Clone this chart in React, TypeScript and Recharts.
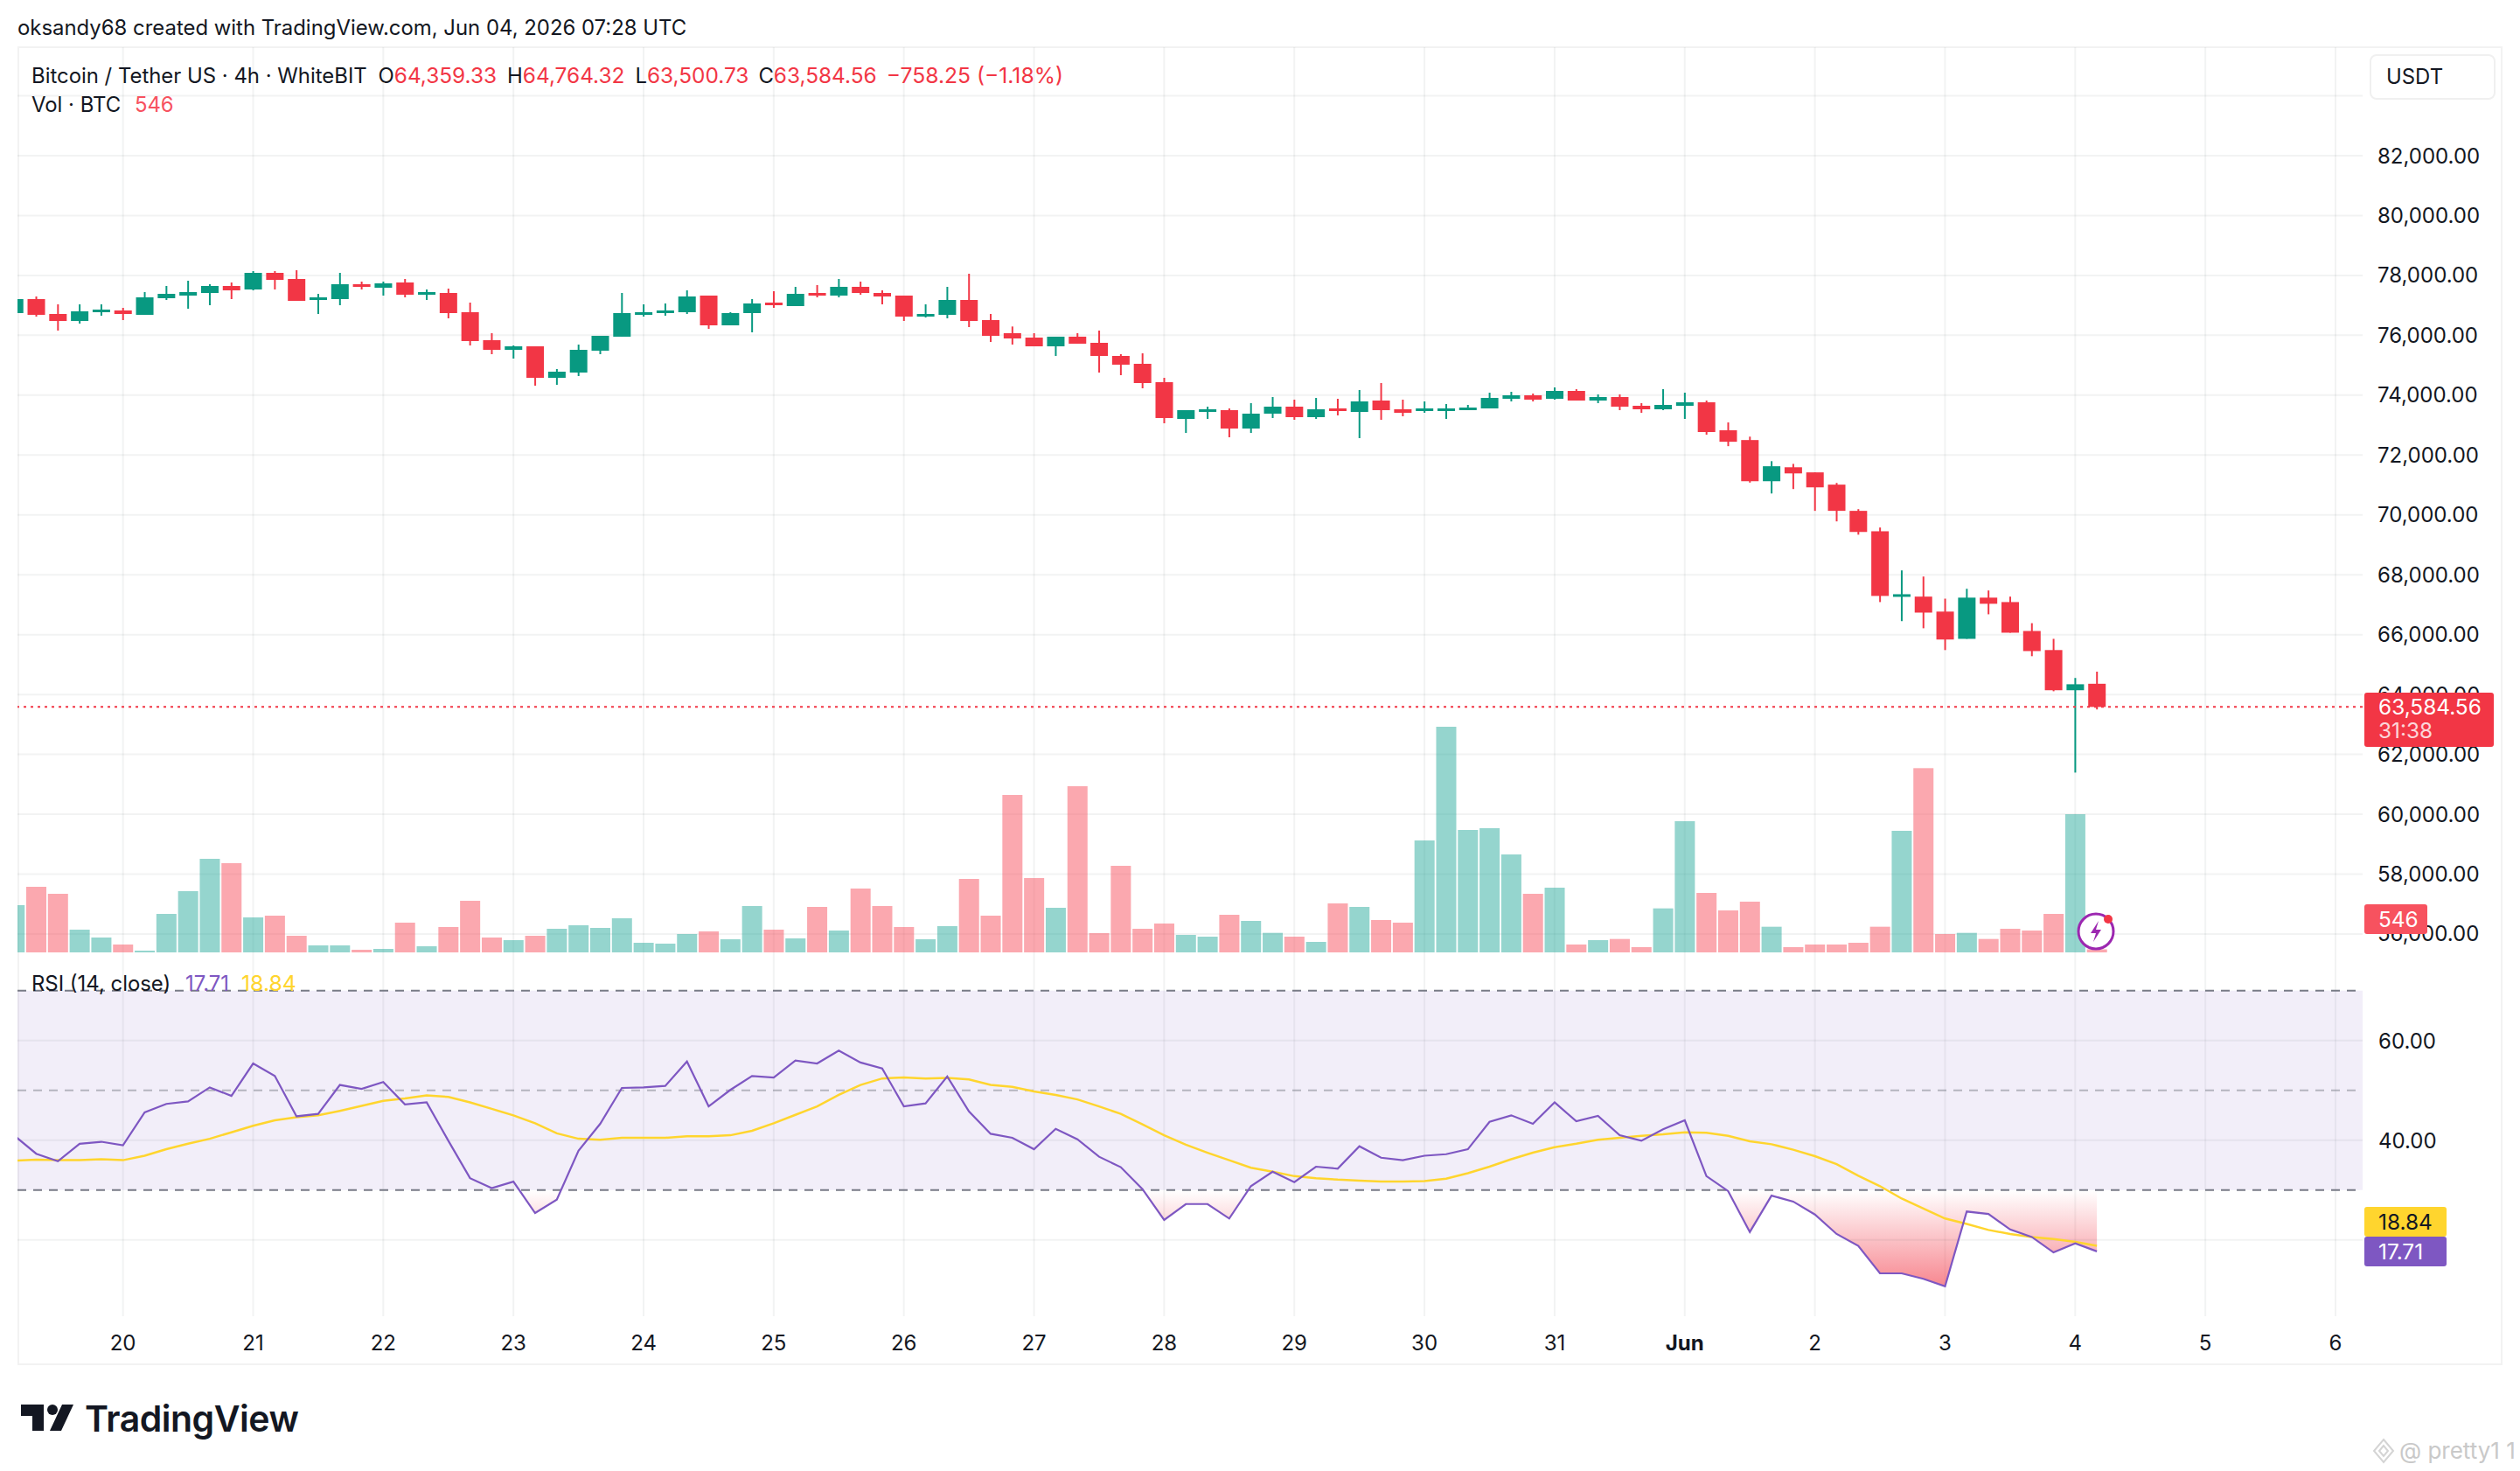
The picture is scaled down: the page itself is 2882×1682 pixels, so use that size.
import { ComposedChart, Bar, Line, Area, XAxis, YAxis, CartesianGrid, ReferenceLine, ReferenceArea } from "recharts";

const FONT = "Inter, 'Noto Sans', sans-serif";
const UP = "#089981";
const DOWN = "#F23645";
const VOL_UP = "rgba(34,168,152,0.48)";
const VOL_DOWN = "rgba(247,82,95,0.5)";
const GRID = "rgba(42,46,57,0.06)";

// 4h candles, first one is May 19 04:00
const opens = [
  76741, 77209, 76712, 76478, 76800, 76829, 76683, 77238, 77326, 77413, 77647, 77530, 78085, 77881, 77209, 77209, 77705, 77588, 77764, 77384,
  77413, 76770, 75836, 75514, 75631, 74579, 74755, 75485, 75953, 76712, 76770, 76770, 77326, 76332, 76741, 77092, 76975, 77413, 77326, 77618,
  77413, 77326, 76624, 76683, 77179, 76508, 76069, 75923, 75631, 75953, 75748, 75310, 75047, 74433, 73206, 73469, 73499, 72885, 73382, 73616,
  73265, 73557, 73440, 73820, 73528, 73499, 73499, 73499, 73557, 73879, 73995, 73879, 74141, 73820, 73937, 73645, 73528, 73645, 73762, 72827,
  72500, 71125, 71591, 71420, 71011, 70135, 69453, 67293, 67270, 66770, 65860, 67236, 67088, 66122, 65485, 64143, 64359.33,
];
const highs = [
  77267, 77296, 77033, 77033, 77033, 76917, 77442, 77647, 77822, 77705, 77764, 78144, 78144, 78173, 77384, 78085, 77793, 77793, 77881, 77530,
  77559, 77092, 76069, 75660, 75631, 74872, 75690, 75982, 77413, 77033, 77063, 77501, 77326, 76770, 77209, 77472, 77618, 77676, 77881, 77793,
  77501, 77326, 77033, 77618, 78056, 76712, 76293, 76069, 75953, 76069, 76157, 75368, 75397, 74579, 73499, 73616, 73557, 73733, 73937, 73850,
  73908, 73879, 74171, 74404, 73850, 73791, 73703, 73674, 74083, 74112, 74054, 74258, 74200, 74025, 74025, 73733, 74200, 74083, 73820, 73090,
  72614, 71795, 71704, 71420, 71068, 70192, 69578, 68146, 67941, 67202, 67532, 67475, 67270, 66383, 65860, 64553, 64764.32,
];
const lows = [
  76683, 76624, 76157, 76391, 76654, 76508, 76683, 77179, 76887, 77004, 77209, 77501, 77530, 77150, 76712, 77004, 77530, 77326, 77267, 77179,
  76566, 75660, 75368, 75222, 74317, 74346, 74638, 75368, 75953, 76624, 76654, 76712, 76215, 76332, 76099, 76917, 76975, 77267, 77267, 77355,
  77033, 76478, 76595, 76566, 76274, 75777, 75690, 75631, 75310, 75719, 74755, 74667, 74229, 73060, 72738, 73206, 72593, 72738, 73236, 73177,
  73206, 73324, 72563, 73177, 73294, 73411, 73206, 73499, 73557, 73791, 73791, 73850, 73820, 73733, 73499, 73411, 73499, 73206, 72680, 72296,
  71079, 70715, 70863, 70135, 69783, 69339, 67088, 66451, 66213, 65485, 65860, 66679, 66065, 65280, 64109, 61392, 63500.73,
];
const closes = [
  77209, 76683, 76478, 76800, 76858, 76712, 77267, 77384, 77442, 77647, 77501, 78085, 77851, 77150, 77267, 77705, 77647, 77734, 77355, 77442,
  76741, 75807, 75514, 75631, 74579, 74784, 75514, 75982, 76741, 76770, 76829, 77296, 76332, 76741, 77063, 77033, 77384, 77355, 77618, 77413,
  77296, 76624, 76712, 77179, 76478, 75982, 75894, 75631, 75953, 75719, 75310, 75018, 74404, 73236, 73499, 73528, 72885, 73382, 73616, 73265,
  73528, 73499, 73791, 73499, 73411, 73557, 73557, 73586, 73908, 73995, 73850, 74141, 73820, 73937, 73616, 73528, 73674, 73762, 72768, 72443,
  71125, 71625, 71386, 70920, 70135, 69430, 67293, 67350, 66736, 65837, 67236, 67031, 66065, 65451, 64143, 64342.81, 63584.56,
];
const volumes = [
  8424, 11700, 10452, 4056, 2652, 1404, 312, 6864, 10920, 16692, 15912, 6240, 6552, 2964, 1248, 1248, 468, 624, 5304, 1092,
  4524, 9204, 2652, 2184, 2964, 4212, 4836, 4368, 6084, 1716, 1560, 3276, 3744, 2340, 8268, 4056, 2496, 8112, 3900, 11388,
  8268, 4524, 2340, 4680, 13104, 6552, 28080, 13260, 7956, 29640, 3432, 15444, 4212, 5148, 3120, 2808, 6708, 5616, 3484, 2808,
  1872, 8736, 8112, 5772, 5304, 19968, 40248, 21840, 22152, 17472, 10452, 11544, 1404, 2184, 2392, 936, 7852, 23400, 10608, 7488,
  9048, 4576, 936, 1404, 1404, 1716, 4576, 21684, 32864, 3276, 3484, 2392, 4212, 3900, 6864, 24648, 546,
];
const rsiValues = [
  40.9, 37.3, 35.8, 39.3, 39.7, 39.0, 45.6, 47.3, 47.8, 50.6, 48.9, 55.4, 52.9, 44.8, 45.3, 51.1, 50.3, 51.7, 47.2, 47.6,
  39.9, 32.4, 30.4, 31.7, 25.4, 28.1, 37.9, 43.3, 50.5, 50.6, 50.9, 55.8, 46.8, 50.1, 52.9, 52.6, 56.0, 55.4, 58.0, 55.6,
  54.4, 46.8, 47.4, 52.8, 45.8, 41.3, 40.5, 38.2, 42.3, 40.2, 36.7, 34.6, 30.2, 24.0, 27.2, 27.2, 24.3, 30.8, 33.7, 31.6,
  34.7, 34.3, 38.8, 36.5, 36.0, 36.9, 37.2, 38.2, 43.7, 45.0, 43.3, 47.6, 43.8, 44.9, 41.0, 39.9, 42.2, 44.0, 32.8, 29.8,
  21.6, 28.9, 27.7, 25.1, 21.2, 18.8, 13.3, 13.3, 12.2, 10.7, 25.7, 25.2, 22.1, 20.6, 17.5, 19.3, 17.71,
];
const rsiMa = [
  35.9, 36.1, 36.0, 36.0, 36.2, 36.0, 36.9, 38.2, 39.3, 40.3, 41.6, 42.9, 44.0, 44.6, 45.0, 45.9, 46.9, 47.9, 48.4, 49.0,
  48.7, 47.6, 46.3, 45.0, 43.4, 41.4, 40.3, 40.1, 40.5, 40.5, 40.5, 40.8, 40.8, 41.0, 41.9, 43.4, 45.1, 46.8, 49.1, 51.1,
  52.4, 52.6, 52.4, 52.5, 52.2, 51.1, 50.7, 49.8, 49.1, 48.2, 46.8, 45.3, 43.2, 41.0, 39.1, 37.5, 36.0, 34.5, 33.7, 32.8,
  32.4, 32.1, 31.9, 31.7, 31.7, 31.8, 32.3, 33.4, 34.7, 36.2, 37.5, 38.6, 39.3, 40.1, 40.5, 40.9, 41.2, 41.6, 41.5, 40.9,
  39.8, 39.2, 38.1, 36.8, 35.2, 32.9, 30.8, 28.3, 26.3, 24.3, 23.2, 22.0, 21.2, 20.6, 20.2, 19.6, 18.84,
];

const dayTicks = [5, 11, 17, 23, 29, 35, 41, 47, 53, 59, 65, 71, 77, 83, 89, 95, 101, 107];
const dayLabels = ["20", "21", "22", "23", "24", "25", "26", "27", "28", "29", "30", "31", "Jun", "2", "3", "4", "5", "6"];
const priceTicks = [56000, 58000, 60000, 62000, 64000, 66000, 68000, 70000, 72000, 74000, 76000, 78000, 80000, 82000];
const priceGrid = [...priceTicks, 84000];
const xDomain = [0.137, 108.25];

const lastPrice = 63584.56;
const lastVolume = 546;

const rows = opens.map((open, i) => ({
  idx: i,
  open,
  high: highs[i],
  low: lows[i],
  close: closes[i],
  volume: volumes[i],
  rsi: rsiValues[i],
  ma: rsiMa[i],
}));

const money = (v: number) => v.toLocaleString("en-US", { minimumFractionDigits: 2, maximumFractionDigits: 2 });

function Candle(props: any) {
  const { x, y, width, height, payload } = props;
  const { open, high, low, close } = payload;
  const perUnit = Math.abs(height) / (high - low);
  const yOf = (v: number) => y + (high - v) * perUnit;
  const top = yOf(Math.max(open, close));
  const bottom = yOf(Math.min(open, close));
  const color = close >= open ? UP : DOWN;
  const cx = x + width / 2;
  return (
    <g>
      <line x1={cx} x2={cx} y1={y} y2={y + Math.abs(height)} stroke={color} strokeWidth={2} />
      <rect x={cx - 10} y={top} width={20} height={Math.max(bottom - top, 3)} fill={color} />
    </g>
  );
}

function VolumeBar(props: any) {
  const { x, y, width, height, payload } = props;
  return <rect x={x} y={y} width={width} height={height} fill={payload.close >= payload.open ? VOL_UP : VOL_DOWN} />;
}

function DayTick(props: any) {
  const { x, y, payload } = props;
  const label = dayLabels[dayTicks.indexOf(payload.value)];
  return (
    <text x={x} y={y + 31} textAnchor="middle" fontFamily={FONT} fontSize={24} fill="#131722" fontWeight={label === "Jun" ? 700 : 400}>
      {label}
    </text>
  );
}

function RsiLabel(props: any) {
  const { viewBox, text } = props;
  return (
    <text x={viewBox.x + viewBox.width + 18} y={viewBox.y + 9} fontFamily={FONT} fontSize={24} fill="#131722">
      {text}
    </text>
  );
}

const abs = (left: number, top: number, extra?: any): any => ({ position: "absolute", left, top, fontFamily: FONT, fontSize: 23.9, lineHeight: "30px", whiteSpace: "nowrap", color: "#131722", ...extra });
const red = { color: DOWN, fontSize: 24.4 };
const tag = (top: number, width: number, height: number, background: string, color: string): any =>
  abs(2704, top, { width, height, background, color, fontSize: 24.4, lineHeight: "34px", paddingLeft: 16, boxSizing: "border-box", borderRadius: 3 });

export default function App() {
  return (
    <div style={{ position: "absolute", left: 0, top: 0, width: 2882, height: 1682, background: "#fff", overflow: "hidden" }}>
      <div style={{ position: "absolute", left: 20, top: 53, width: 2842, height: 1508, boxSizing: "border-box", border: "2px solid #f2f2f2" }} />
      <ComposedChart
        width={2882}
        height={1682}
        data={rows}
        margin={{ top: 54, right: 20, bottom: 121, left: 20 }}
        style={{ position: "absolute", left: 0, top: 0 }}
      >
        <defs>
          <linearGradient id="oversold" gradientUnits="userSpaceOnUse" x1="0" x2="0" y1="1361" y2="1475">
            <stop offset="0" stopColor={DOWN} stopOpacity={0} />
            <stop offset="1" stopColor={DOWN} stopOpacity={0.62} />
          </linearGradient>
        </defs>
        <XAxis
          dataKey="idx"
          type="number"
          domain={xDomain}
          allowDataOverflow
          ticks={dayTicks}
          interval={0}
          height={56}
          axisLine={false}
          tickLine={false}
          tick={<DayTick />}
        />
        <XAxis xAxisId="vol" dataKey="idx" type="number" domain={xDomain} allowDataOverflow ticks={dayTicks} hide />
        <YAxis
          yAxisId="price"
          orientation="right"
          width={160}
          domain={[43233, 85622]}
          ticks={priceTicks}
          interval={0}
          axisLine={false}
          tickLine={false}
          tickFormatter={money}
          tick={{ fontFamily: FONT, fontSize: 24, fill: "#131722", dx: 9 }}
        />
        <YAxis yAxisId="volume" hide domain={[-64896, 161460]} />
        <YAxis yAxisId="rsi" hide domain={[4.7, 259.3]} />
        <CartesianGrid yAxisId="price" stroke={GRID} strokeWidth={2} horizontalValues={priceGrid} verticalValues={dayTicks} />
        <ReferenceArea yAxisId="rsi" y1={30} y2={70} fill="#7E57C2" fillOpacity={0.1} stroke="none" />
        <ReferenceLine yAxisId="rsi" y={60} stroke={GRID} strokeWidth={2} label={<RsiLabel text="60.00" />} />
        <ReferenceLine yAxisId="rsi" y={40} stroke={GRID} strokeWidth={2} label={<RsiLabel text="40.00" />} />
        <ReferenceLine yAxisId="rsi" y={20} stroke={GRID} strokeWidth={2} />
        <ReferenceLine yAxisId="rsi" y={70} stroke="#787B86" strokeWidth={2} strokeDasharray="10 8" />
        <ReferenceLine yAxisId="rsi" y={50} stroke="#787B86" strokeOpacity={0.5} strokeWidth={2} strokeDasharray="10 8" />
        <ReferenceLine yAxisId="rsi" y={30} stroke="#787B86" strokeWidth={2} strokeDasharray="10 8" />
        <Bar xAxisId="vol" yAxisId="volume" dataKey="volume" barSize={23} shape={<VolumeBar />} isAnimationActive={false} />
        <Bar yAxisId="price" dataKey={(d: any) => [d.low, d.high]} barSize={23} shape={<Candle />} isAnimationActive={false} />
        <Area
          yAxisId="rsi"
          dataKey={(d: any) => [d.rsi, 30]}
          type="linear"
          stroke="none"
          fill="url(#oversold)"
          fillOpacity={1}
          dot={false}
          activeDot={false}
          isAnimationActive={false}
        />
        <Line yAxisId="rsi" dataKey="ma" type="linear" stroke="#FFD52E" strokeWidth={2.5} dot={false} activeDot={false} isAnimationActive={false} />
        <Line yAxisId="rsi" dataKey="rsi" type="linear" stroke="#7E57C2" strokeWidth={2.2} dot={false} activeDot={false} isAnimationActive={false} />
        <ReferenceLine yAxisId="price" y={lastPrice} stroke={DOWN} strokeWidth={2} strokeDasharray="3 5" />
      </ComposedChart>

      <div style={{ ...tag(792, 148, 62, DOWN, "#fff"), lineHeight: "27px", paddingTop: 3 }}>
        <div>{money(lastPrice)}</div>
        <div style={{ opacity: 0.8 }}>31:38</div>
      </div>
      <div style={tag(1034, 72, 34, "#F7525F", "#fff")}>{lastVolume}</div>
      <div style={tag(1380, 94, 34, "#FFD52E", "#131722")}>{rsiMa[96]}</div>
      <div style={tag(1414, 94, 34, "#7E57C2", "#fff")}>{rsiValues[96]}</div>

      <div style={abs(20, 17)}>oksandy68 created with TradingView.com, Jun 04, 2026 07:28 UTC</div>
      <div style={abs(36, 71)}>
        Bitcoin / Tether US · 4h · WhiteBIT{"  "}
        <span style={{ marginLeft: 6 }}>O</span><span style={red}>64,359.33</span>
        <span style={{ marginLeft: 12 }}>H</span><span style={red}>64,764.32</span>
        <span style={{ marginLeft: 12 }}>L</span><span style={red}>63,500.73</span>
        <span style={{ marginLeft: 11 }}>C</span><span style={red}>63,584.56</span>
        <span style={{ ...red, marginLeft: 11, fontSize: 24.7 }}>−758.25 (−1.18%)</span>
      </div>
      <div style={abs(36, 105)}>
        Vol · BTC <span style={{ color: "#F7525F", marginLeft: 9 }}>546</span>
      </div>
      <div style={abs(36, 1109)}>
        RSI (14, close) <span style={{ color: "#7E57C2", marginLeft: 10 }}>17.71</span>
        <span style={{ color: "#FFD52E", marginLeft: 14, fontSize: 24.8 }}>18.84</span>
      </div>
      <div style={abs(2710, 62, { width: 144, height: 52, boxSizing: "border-box", border: "2px solid #f0f0f0", borderRadius: 8, padding: "9px 0 0 17px" })}>USDT</div>

      <svg style={{ position: "absolute", left: 2370, top: 1040 }} width={56} height={56}>
        <circle cx={27} cy={25} r={20} fill="#fff" stroke="#9C27B0" strokeWidth={3} />
        <path d="M30 13 L21 27 L27 27 L24 37 L33 23 L27 23 Z" fill="#9C27B0" />
        <circle cx={41} cy={11} r={5} fill={DOWN} />
      </svg>

      <svg style={{ position: "absolute", left: 24, top: 1606 }} width={62} height={32}>
        <path d="M0 0 H26 V30 H13 V13 H0 Z" fill="#131722" />
        <circle cx={36} cy={6} r={6} fill="#131722" />
        <path d="M47 0 H60 L46 30 H33 Z" fill="#131722" />
      </svg>
      <div style={abs(97, 1597, { fontSize: 41, lineHeight: "50px", fontWeight: 600, letterSpacing: -0.5 })}>TradingView</div>
      <svg style={{ position: "absolute", left: 2712, top: 1644 }} width={28} height={30}>
        <path d="M14 2 L25 15 L14 28 L3 15 Z M14 9 L9 15 L14 21 L19 15 Z" fill="none" stroke="#d4d4d4" strokeWidth={2} />
      </svg>
      <div style={abs(2744, 1644, { fontSize: 26, color: "#c9c9c9" })}>@ pretty1 1</div>
    </div>
  );
}
